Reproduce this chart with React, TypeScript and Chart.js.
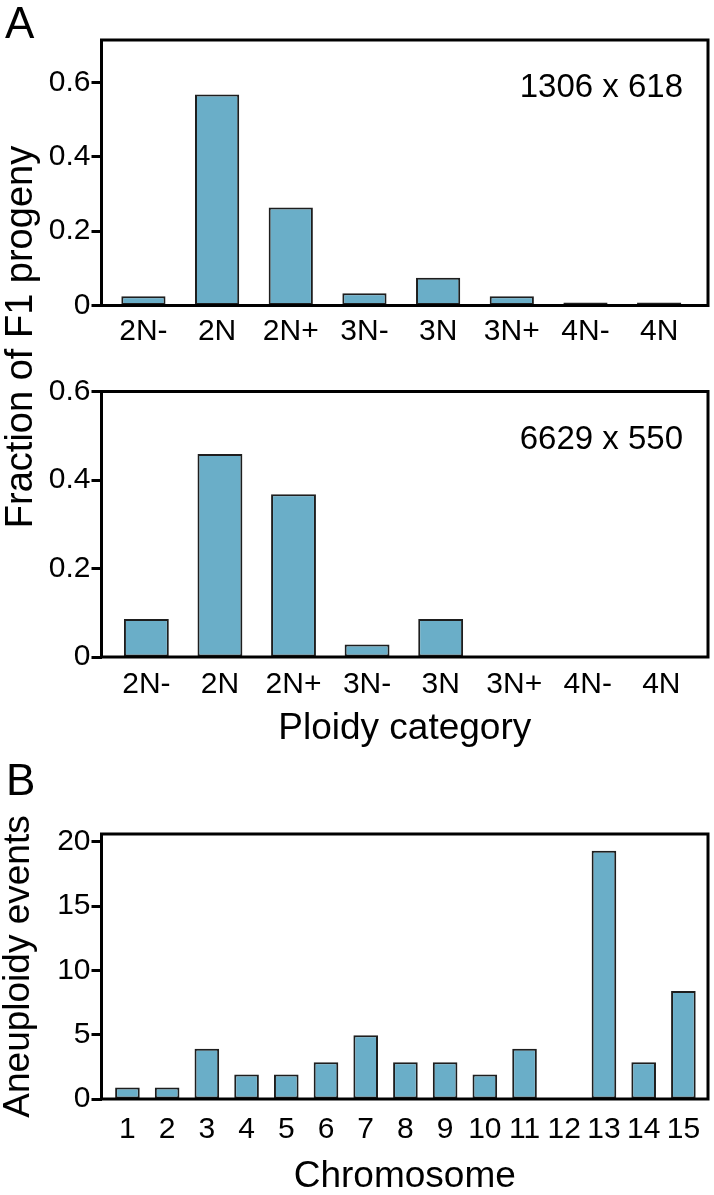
import React, { useEffect, useRef } from "react";
import { Chart, registerables } from "chart.js";

Chart.register(...registerables);

const FONT = '"Liberation Sans", Arial, Helvetica, sans-serif';

// ---- data ----
const ploidyCategories = ["2N-", "2N", "2N+", "3N-", "3N", "3N+", "4N-", "4N"];
const fractionCross1 = [0.025, 0.568, 0.264, 0.033, 0.075, 0.025, 0.008, 0.008];
const fractionCross2 = [0.086, 0.459, 0.368, 0.028, 0.086, 0, 0, 0];
const crossLabel1 = "1306 x 618";
const crossLabel2 = "6629 x 550";
const fractionTicks = [0, 0.2, 0.4, 0.6];

const chromosomes = ["1", "2", "3", "4", "5", "6", "7", "8", "9", "10", "11", "12", "13", "14", "15"];
const aneuploidyEvents = [0.9, 0.9, 3.9, 1.9, 1.9, 2.85, 4.95, 2.85, 2.85, 1.9, 3.9, 0, 19.3, 2.85, 8.4];
const eventTicks = [0, 5, 10, 15, 20];

const BAR_FILL = "#6aaec8";
const BAR_EDGE = "#1e1e1e";

const framePlugin = {
  id: "frame",
  afterDatasetsDraw(chart: any, _args: any, opts: any) {
    const { ctx, chartArea } = chart;
    const { left, top, right, bottom } = chartArea;
    ctx.save();
    ctx.lineWidth = 3;
    ctx.strokeStyle = "#000";
    ctx.strokeRect(left, top, right - left, bottom - top);
    if (opts && opts.text) {
      ctx.font = `33px ${FONT}`;
      ctx.fillStyle = "#000";
      ctx.textAlign = "right";
      ctx.textBaseline = "alphabetic";
      ctx.fillText(opts.text, right - 25, top + 57);
    }
    ctx.restore();
  },
};

type Spec = {
  categories: string[];
  values: number[];
  yMax: number;
  yTicks: number[];
  xMin: number;
  xMax: number;
  padTop: number;
  xAxisHeight: number;
  labelPad: number;
  note?: string;
  xTitle?: string;
  xTitlePadBottom?: number;
  yTitle?: string;
  barPct: number;
};

function BarPanel({ spec, top, height }: { spec: Spec; top: number; height: number }) {
  const ref = useRef<HTMLCanvasElement | null>(null);
  useEffect(() => {
    if (!ref.current) return;
    const s = spec;
    const chart = new Chart(ref.current, {
      type: "bar",
      data: {
        datasets: [
          {
            data: s.categories.map((_, i) => ({ x: i, y: s.values[i] })),
            backgroundColor: BAR_FILL,
            borderColor: BAR_EDGE,
            borderWidth: 2,
            borderSkipped: false,
            categoryPercentage: 1,
            barPercentage: s.barPct,
          } as any,
        ],
      },
      options: {
        animation: false,
        responsive: false,
        devicePixelRatio: 1,
        layout: { padding: { top: s.padTop, left: 0, right: 6, bottom: 0 } },
        plugins: {
          legend: { display: false },
          tooltip: { enabled: false },
          frame: { text: s.note },
        } as any,
        scales: {
          x: {
            type: "linear",
            offset: false,
            min: s.xMin,
            max: s.xMax,
            bounds: "data",
            afterBuildTicks: (sc: any) => {
              sc.ticks = s.categories.map((_, i) => ({ value: i }));
            },
            afterFit: (sc: any) => {
              sc.height = s.xAxisHeight;
            },
            ticks: {
              callback: (v: any) => s.categories[v] ?? "",
              autoSkip: false,
              maxRotation: 0,
              minRotation: 0,
              padding: s.labelPad,
              color: "#000",
              font: { family: FONT, size: 30 },
            },
            grid: { display: false, drawTicks: false },
            border: { display: false },
            title: s.xTitle
              ? {
                  display: true,
                  text: s.xTitle,
                  color: "#000",
                  font: { family: FONT, size: 37, lineHeight: 1 },
                  padding: { top: 0, bottom: s.xTitlePadBottom ?? 0 },
                }
              : { display: false },
          },
          y: {
            min: 0,
            max: s.yMax,
            bounds: "data",
            afterBuildTicks: (sc: any) => {
              sc.ticks = s.yTicks.map((v) => ({ value: v }));
            },
            afterFit: (sc: any) => {
              sc.width = 101.5;
            },
            ticks: {
              callback: (v: any) => String(v),
              padding: 1,
              color: "#000",
              font: { family: FONT, size: 30 },
            },
            grid: {
              drawOnChartArea: false,
              drawTicks: true,
              tickLength: 10,
              tickWidth: 3,
              tickColor: "#000",
            },
            border: { display: false },
            title: s.yTitle
              ? {
                  display: true,
                  text: s.yTitle,
                  color: "#000",
                  font: { family: FONT, size: 37, lineHeight: 1 },
                  padding: { top: 0.7, bottom: 0 },
                }
              : { display: false },
          },
        },
      } as any,
      plugins: [framePlugin as any],
    });
    return () => chart.destroy();
  }, [spec]);
  return (
    <div style={{ position: "absolute", left: 0, top, width: 714, height }}>
      <canvas ref={ref} width={714} height={height} style={{ width: 714, height, display: "block" }} />
    </div>
  );
}

const specA1: Spec = {
  categories: ploidyCategories,
  values: fractionCross1,
  yMax: 0.715,
  yTicks: fractionTicks,
  xMin: -0.569,
  xMax: 7.663,
  padTop: 40,
  xAxisHeight: 54.5,
  labelPad: 8,
  note: crossLabel1,
  barPct: 0.6,
};

const specA2: Spec = {
  categories: ploidyCategories,
  values: fractionCross2,
  yMax: 0.6,
  yTicks: fractionTicks,
  xMin: -0.61,
  xMax: 7.634,
  padTop: 41.5,
  xAxisHeight: 103,
  labelPad: 9.6,
  note: crossLabel2,
  xTitle: "Ploidy category",
  xTitlePadBottom: 12.3,
  barPct: 0.61,
};

const specB: Spec = {
  categories: chromosomes,
  values: aneuploidyEvents,
  yMax: 20.6,
  yTicks: eventTicks,
  xMin: -0.653,
  xMax: 14.62,
  padTop: 74,
  xAxisHeight: 96,
  labelPad: 12.6,
  xTitle: "Chromosome",
  xTitlePadBottom: 0,
  yTitle: "Aneuploidy events",
  barPct: 0.62,
};

export default function App() {
  const letter: React.CSSProperties = {
    position: "absolute",
    fontFamily: FONT,
    fontSize: 44,
    lineHeight: "44px",
    color: "#000",
  };
  return (
    <div style={{ position: "absolute", left: 0, top: 0, width: 714, height: 1195, background: "#fff", overflow: "hidden" }}>
      <BarPanel spec={specA1} top={0} height={360} />
      <BarPanel spec={specA2} top={350} height={410} />
      <BarPanel spec={specB} top={760} height={435} />
      <div style={{ ...letter, left: 5, top: 1 }}>A</div>
      <div style={{ ...letter, left: 6, top: 758 }}>B</div>
      <div
        style={{
          position: "absolute",
          left: 18.8 - 300,
          top: 337 - 19,
          width: 600,
          height: 38,
          lineHeight: "38px",
          fontSize: 38,
          fontFamily: FONT,
          textAlign: "center",
          whiteSpace: "nowrap",
          transform: "rotate(-90deg)",
          color: "#000",
        }}
      >
        Fraction of F1 progeny
      </div>
    </div>
  );
}
